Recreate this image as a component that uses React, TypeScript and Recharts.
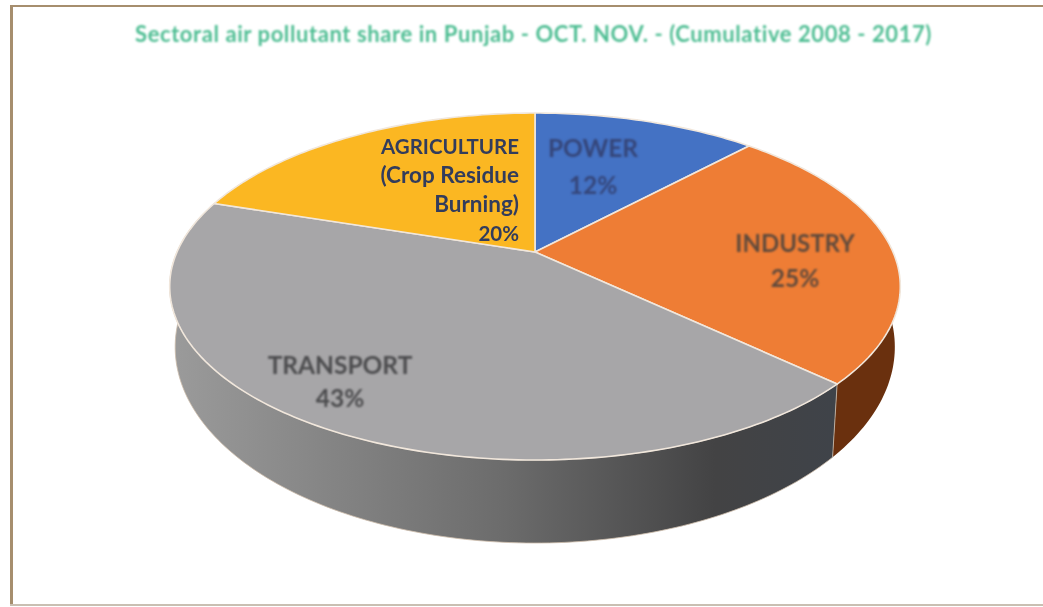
import { PieChart, Pie } from 'recharts';

const sectors = ['POWER', 'INDUSTRY', 'TRANSPORT', 'AGRICULTURE'];
const shares = [12, 25, 43, 20];
const topColors = ['#4472c4', '#ee7d35', '#a7a6a8', '#fbb722'];
const chartTitle = 'Sectoral air pollutant share in Punjab - OCT. NOV. - (Cumulative 2008 - 2017)';

const data = sectors.map((name, i) => ({ name, value: shares[i], fill: topColors[i] }));

// tilt of the disc: the flat pie is pushed through a small perspective map
const SQUASH = 0.4654;
const PERSPECTIVE = 0.199;
const WALL_SHRINK_X = 0.985;
const WALL_STRETCH_Y = 1.13;
const WALL_DROP = 56;

function rimPoint(cx: number, cy: number, r: number, deg: number) {
  const a = (deg * Math.PI) / 180;
  const w = 1 + PERSPECTIVE * Math.sin(a);
  return {
    dx: (r * Math.cos(a)) / w,
    dy: -(r * SQUASH * Math.sin(a)) / w,
    cx,
    cy,
  };
}

function arcPoints(props: any) {
  const { cx, cy, outerRadius, startAngle, endAngle } = props;
  const steps = Math.max(2, Math.ceil(Math.abs(endAngle - startAngle)));
  const pts = [];
  for (let i = 0; i <= steps; i++) {
    pts.push(rimPoint(cx, cy, outerRadius, startAngle + ((endAngle - startAngle) * i) / steps));
  }
  return pts;
}

function TopFace(props: any) {
  const { cx, cy, fill } = props;
  const rim = arcPoints(props).map((p) => `L${p.cx + p.dx} ${p.cy + p.dy}`).join(' ');
  return (
    <path
      d={`M${cx} ${cy} ${rim} Z`}
      fill={fill}
      stroke="#f1e7dc"
      strokeWidth={1.6}
      strokeLinejoin="round"
    />
  );
}

function WallFace(props: any) {
  const pts = arcPoints(props);
  const upper = pts.map((p) => `${p.cx + p.dx} ${p.cy + p.dy}`);
  const lower = pts
    .map((p) => `${p.cx + p.dx * WALL_SHRINK_X} ${p.cy + p.dy * WALL_STRETCH_Y + WALL_DROP}`)
    .reverse();
  const id = `wall-${props.name}`;
  const isTransport = props.name === 'TRANSPORT';
  return (
    <g>
      <defs>
        <linearGradient id={id} gradientUnits="userSpaceOnUse" x1={170} y1={0} x2={835} y2={0}>
          {isTransport ? (
            <>
              <stop offset="0%" stopColor="#9b9b9b" />
              <stop offset="50%" stopColor="#6c6c6c" />
              <stop offset="82%" stopColor="#434344" />
              <stop offset="100%" stopColor="#3f4349" />
            </>
          ) : (
            <>
              <stop offset="0%" stopColor="#6a300e" />
              <stop offset="100%" stopColor="#6a300e" />
            </>
          )}
        </linearGradient>
      </defs>
      <path d={`M${upper.join(' L')} L${lower.join(' L')} Z`} fill={`url(#${id})`} stroke="#cdbcab" strokeWidth={0.8} strokeOpacity={isTransport ? 1 : 0} />
    </g>
  );
}

const labelLines: Record<string, string[]> = {
  POWER: ['POWER', '12%'],
  INDUSTRY: ['INDUSTRY', '25%'],
  TRANSPORT: ['TRANSPORT', '43%'],
  AGRICULTURE: ['AGRICULTURE', '(Crop Residue', 'Burning)', '20%'],
};

const labelSizes: Record<string, number[]> = {
  POWER: [24.5, 24.5],
  INDUSTRY: [24, 24.5],
  TRANSPORT: [24.5, 24.5],
  AGRICULTURE: [20.5, 22.5, 22.5, 20.5],
};

const labelSpots: Record<string, { x: number; y: number; gap: number; color: string; blur: number }> = {
  POWER: { x: 593, y: 157, gap: 37, color: '#35467a', blur: 1.1 },
  INDUSTRY: { x: 795, y: 252, gap: 35, color: '#5f4a3c', blur: 0.9 },
  TRANSPORT: { x: 340, y: 374, gap: 33, color: '#4c4c4e', blur: 0.8 },
  AGRICULTURE: { x: 519, y: 154, gap: 29, color: '#323c5c', blur: 0.3 },
};

function SliceLabel(props: any) {
  const name = props.name;
  const spot = labelSpots[name];
  const rightAligned = name === 'AGRICULTURE';
  return (
    <g style={{ filter: `blur(${spot.blur}px)` }}>
      {labelLines[name].map((line, i) => (
        <text
          key={line}
          x={spot.x}
          y={spot.y + i * spot.gap}
          textAnchor={rightAligned ? 'end' : 'middle'}
          fill={spot.color}
          fontFamily="Lato, 'Open Sans', sans-serif"
          fontWeight={700}
          fontSize={labelSizes[name][i]}
        >
          {line}
        </text>
      ))}
    </g>
  );
}

export default function App() {
  return (
    <div style={{ position: 'absolute', left: 0, top: 0, width: 1043, height: 607, background: '#fff', overflow: 'hidden' }}>
      <div style={{ position: 'absolute', left: 10, top: 5, width: 3, height: 601, background: '#a68e6e' }} />
      <div style={{ position: 'absolute', left: 10, top: 5, right: 0, height: 2, background: '#a68e6e' }} />
      <div style={{ position: 'absolute', left: 10, top: 604, right: 0, height: 2, background: '#c9bfb2' }} />
      <div
        style={{
          position: 'absolute',
          left: 0,
          right: 0,
          top: 20,
          paddingLeft: 24,
          textAlign: 'center',
          color: '#4dbd92',
          fontFamily: "Lato, 'Open Sans', sans-serif",
          fontWeight: 700,
          fontSize: 22,
          letterSpacing: 0.58,
          whiteSpace: 'nowrap',
          filter: 'blur(0.9px)',
        }}
      >
        {chartTitle}
      </div>
      <div style={{ position: 'absolute', left: 0, top: 0, filter: 'blur(0.6px)' }}>
        <PieChart width={1043} height={607} margin={{ top: 0, right: 0, bottom: 0, left: 0 }}>
          <Pie
            data={data}
            dataKey="value"
            nameKey="name"
            cx={535}
            cy={252}
            outerRadius={358}
            startAngle={90}
            endAngle={-270}
            shape={WallFace}
            isAnimationActive={false}
          />
          <Pie
            data={data}
            dataKey="value"
            nameKey="name"
            cx={535}
            cy={252}
            outerRadius={358}
            startAngle={90}
            endAngle={-270}
            shape={TopFace}
            label={SliceLabel}
            labelLine={false}
            isAnimationActive={false}
          />
        </PieChart>
      </div>
    </div>
  );
}
